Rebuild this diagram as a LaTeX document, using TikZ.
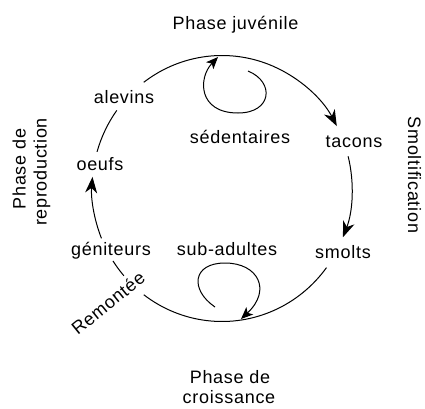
\documentclass[tikz,border=0pt]{standalone}
\usepackage{fontspec}
\setmainfont{Liberation Sans}[LetterSpace=4]
\usetikzlibrary{arrows.meta,calc}
\begin{document}
\begin{tikzpicture}[x=1pt,y=-1pt,
  lbl/.style={inner sep=0pt, anchor=base, font=\fontsize{18}{21}\selectfont},
  cyc/.style={line width=1pt},
  bigarrow/.style={-{Stealth[length=16pt,width=12pt,inset=5pt]}},
  smallarrow/.style={-{Stealth[length=12pt,width=10pt,inset=3pt]}}]
\useasboundingbox (0,0) rectangle (425,408);
\coordinate (C) at (222,188.5);
% labels
\node[lbl] (juv) at (235.5,29) {Phase juvénile};
\node[lbl] (alev) at (124,103) {alevins};
\node[lbl] (sed) at (240,143) {sédentaires};
\node[lbl] (tac) at (354,147) {tacons};
\node[lbl] (oeuf) at (100,170) {oeufs};
\node[lbl] (gen) at (111,255) {géniteurs};
\node[lbl] (sub) at (227,255) {sub-adultes};
\node[lbl] (smo) at (343,258) {smolts};
\node[lbl] (cr1) at (230,383) {Phase de};
\node[lbl] (cr2) at (229,403) {croissance};
\node[lbl, rotate=-90] (smf) at (408,175) {Smoltification};
\node[lbl, rotate=90] (rp1) at (25.5,169) {Phase de};
\node[lbl, rotate=90] (rp2) at (46.5,172) {reproduction};
\node[lbl, anchor=center, rotate=39] (rem) at (108,303) {Remontée};
% points on the cycle
\coordinate (pA) at ($(C)+(127:130pt and 133pt)$);
\coordinate (pB) at ($(C)+(14:130pt and 133pt)$);
\coordinate (pC) at ($(C)+(-36.5:130pt and 133pt)$);
\coordinate (pD) at ($(C)+(-139:130pt and 133pt)$);
\coordinate (pE) at ($(C)+(-158:130pt and 133pt)$);
\coordinate (pF) at ($(C)+(-196:130pt and 133pt)$);
% cycle arcs
\draw[cyc,bigarrow] (pA) arc[start angle=127,end angle=28,x radius=130pt,y radius=133pt];
\draw[cyc,bigarrow] (pB) arc[start angle=14,end angle=-21.5,x radius=130pt,y radius=133pt];
\draw[cyc] (pC) arc[start angle=-36.5,end angle=-127,x radius=130pt,y radius=133pt];
\draw[cyc] (pD) arc[start angle=-139,end angle=-147,x radius=130pt,y radius=133pt];
\draw[cyc,bigarrow] (pE) arc[start angle=-158,end angle=-185,x radius=130pt,y radius=133pt];
\draw[cyc] (pF) arc[start angle=-196,end angle=-216,x radius=130pt,y radius=133pt];
% loops
\coordinate (l1s) at (248,71);
\coordinate (l1e) at (218,57);
\draw[cyc,smallarrow] (l1s) .. controls (275,82) and (272,113) .. (238,113)
   .. controls (198,113) and (198,78) .. (l1e);
\coordinate (l2s) at (215,307);
\coordinate (l2e) at (241,319);
\draw[cyc,smallarrow] (l2s) .. controls (190,290) and (192,263) .. (225,263)
   .. controls (258,263) and (272,290) .. (l2e);
\end{tikzpicture}
\end{document}
